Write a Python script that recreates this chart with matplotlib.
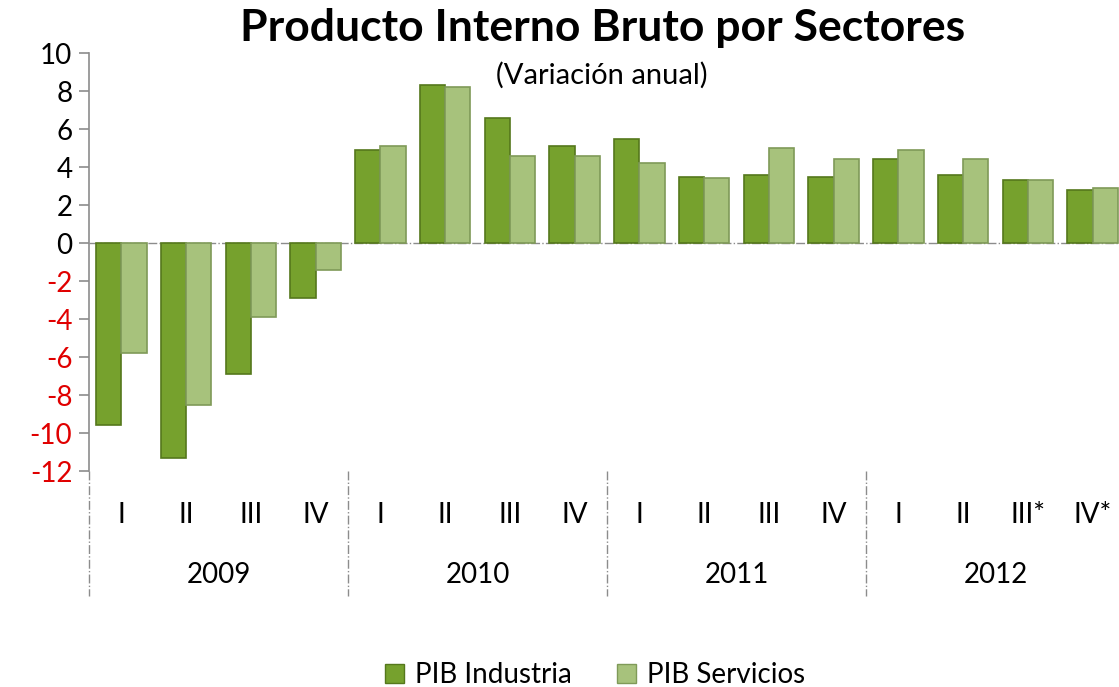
"""
Producto Interno Bruto por Sectores: grouped bar chart, quarterly annual variation.
"""

import matplotlib
matplotlib.use("Agg")  # non-interactive backend
import matplotlib.pyplot as plt
from matplotlib.patches import Patch
import numpy as np

plt.rcParams["font.family"] = ["Lato", "DejaVu Sans"]

# ── data ──
years = ["2009", "2010", "2011", "2012"]
quarters = ["I", "II", "III", "IV", "I", "II", "III", "IV",
            "I", "II", "III", "IV", "I", "II", "III*", "IV*"]
industria = [-9.6, -11.3, -6.9, -2.9, 4.9, 8.3, 6.6, 5.1,
             5.5, 3.5, 3.6, 3.5, 4.4, 3.6, 3.3, 2.8]
servicios = [-5.8, -8.5, -3.9, -1.4, 5.1, 8.2, 4.6, 4.6,
             4.2, 3.4, 5.0, 4.4, 4.9, 4.4, 3.3, 2.9]
yticks = [10, 8, 6, 4, 2, 0, -2, -4, -6, -8, -10, -12]

IND_COLOR = "#76a12d"
IND_EDGE = "#55781c"
SER_COLOR = "#a7c27c"
SER_EDGE = "#7f9a58"

fig = plt.figure(figsize=(11.19, 6.87), dpi=100)
ax = fig.add_axes([89 / 1119, 1 - 471 / 687, 1036 / 1119, 418 / 687])

x = np.arange(len(quarters))
w = 0.39
ax.bar(x - w / 2, industria, w, color=IND_COLOR, edgecolor=IND_EDGE,
       linewidth=1.2, zorder=3)
ax.bar(x + w / 2, servicios, w, color=SER_COLOR, edgecolor=SER_EDGE,
       linewidth=1.2, zorder=3)

ax.set_xlim(-0.5, len(quarters) - 0.5)
ax.set_ylim(-12, 10)
ax.axhline(0, color="#8c8c8c", linewidth=1, linestyle="-.", zorder=2)

# y axis
ax.set_yticks(yticks)
ax.set_yticklabels([str(t) for t in yticks], fontsize=20)
for lab, t in zip(ax.get_yticklabels(), yticks):
    lab.set_color("#e00000" if t < 0 else "black")
ax.tick_params(axis="y", direction="out", length=7, color="#8c8c8c",
               width=1.2, pad=5)
for side in ("top", "right", "bottom"):
    ax.spines[side].set_visible(False)
ax.spines["left"].set_color("#8c8c8c")
ax.spines["left"].set_linewidth(1.2)

# x axis: quarters + years with dashed separators
ax.set_xticks(x)
ax.set_xticklabels(quarters, fontsize=20)
ax.tick_params(axis="x", length=0, pad=22)
trans = ax.get_xaxis_transform()
for i, yr in enumerate(years):
    ax.text(4 * i + 1.5, -0.249, yr, transform=trans, ha="center",
            va="center", fontsize=20)
for b in range(0, len(quarters) + 1, 4):
    ax.plot([b - 0.5, b - 0.5], [0, -0.30], transform=trans,
            color="#8c8c8c", linewidth=1, linestyle="-.", clip_on=False)

# titles
fig.text(603 / 1119, 1 - 28 / 687, "Producto Interno Bruto por Sectores",
         ha="center", va="center", fontsize=32, fontweight="bold")
fig.text(602 / 1119, 1 - 75 / 687, "(Variación anual)",
         ha="center", va="center", fontsize=21)

# legend
handles = [Patch(facecolor=IND_COLOR, edgecolor=IND_EDGE, label="PIB Industria"),
           Patch(facecolor=SER_COLOR, edgecolor=SER_EDGE, label="PIB Servicios")]
fig.legend(handles=handles, loc="center", bbox_to_anchor=(595 / 1119, 1 - 675 / 687),
           ncol=2, frameon=False, fontsize=20, handlelength=0.7,
           handleheight=0.7, handletextpad=0.4, columnspacing=1.6)

fig.savefig("out.png", dpi=100)
